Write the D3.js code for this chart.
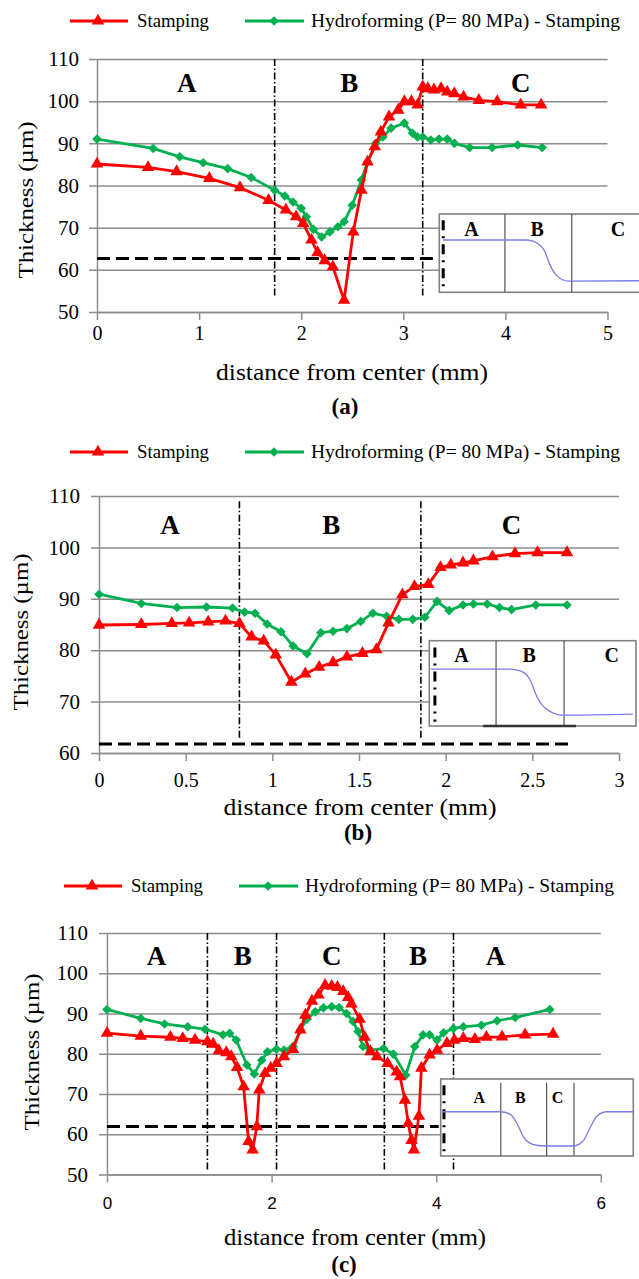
<!DOCTYPE html>
<html>
<head>
<meta charset="utf-8">
<script src="https://cdn.jsdelivr.net/npm/d3@7"></script>
<style>
  body { margin: 0; background: #fff; }
  svg  { display: block; }
</style>
</head>
<body>
<svg id="chart" width="639" height="1279"></svg>
<script>
// ---- data (thickness in um vs distance from center in mm) ----
const stampingA = [[0,85.1],[0.5,84.3],[0.78,83.3],[1.1,81.7],[1.4,79.5],[1.68,76.5],[1.85,74.2],[1.95,72.6],[2.02,71],
  [2.1,67.1],[2.16,64.1],[2.23,62.2],[2.31,60.7],[2.42,52.8],[2.51,69],[2.59,78.9],[2.65,85.6],[2.72,89.2],[2.78,92.7],
  [2.86,96.3],[2.95,97.9],[3.01,99.9],[3.08,99.9],[3.14,99.1],[3.19,103.4],[3.24,103],[3.3,102.7],[3.37,103],[3.43,102.2],
  [3.5,101.8],[3.59,101],[3.74,100.2],[3.92,99.9],[4.15,99.1],[4.35,99.1]];
const hydroA = [[0,91],[0.55,88.8],[0.81,86.8],[1.04,85.4],[1.28,84],[1.51,81.9],[1.74,78.9],[1.84,77.5],[1.92,76.1],
  [2.0,74.6],[2.05,72.6],[2.12,69.6],[2.2,67.8],[2.28,69],[2.36,70.2],[2.42,71.4],[2.5,75.3],[2.59,81.3],[2.65,85.6],
  [2.73,90],[2.8,91.5],[2.88,93.6],[3.01,94.8],[3.09,92.4],[3.14,91.5],[3.19,91.5],[3.27,90.8],[3.35,91],[3.43,91],
  [3.5,90],[3.65,89],[3.87,89],[4.12,89.6],[4.36,89]];

const stampingB = [[0,84.9],[0.244,85.0],[0.42,85.2],[0.52,85.3],[0.63,85.5],[0.73,85.7],[0.81,85.2],[0.88,82.6],
  [0.95,81.8],[1.02,79.1],[1.11,73.8],[1.19,75.4],[1.27,76.7],[1.35,77.6],[1.43,78.7],[1.52,79.4],[1.6,80.1],[1.67,85.3],
  [1.75,90.8],[1.82,92.4],[1.9,92.8],[1.97,96.1],[2.03,96.6],[2.1,97.0],[2.16,97.4],[2.27,98.2],[2.4,98.8],[2.53,99.0],[2.7,99.0]];
const hydroB = [[0,90.9],[0.244,89.1],[0.45,88.3],[0.62,88.4],[0.77,88.2],[0.84,87.4],[0.9,87.2],[0.97,85.1],[1.05,83.6],
  [1.12,80.8],[1.2,79.3],[1.28,83.4],[1.35,83.7],[1.43,84.2],[1.51,85.6],[1.58,87.2],[1.66,86.6],[1.73,86.0],[1.81,86.0],
  [1.88,86.4],[1.95,89.5],[2.02,87.7],[2.1,88.8],[2.16,89.0],[2.24,89.0],[2.31,88.3],[2.38,87.9],[2.52,88.8],[2.7,88.8]];

const stampingC = [[0,85.1],[0.41,84.4],[0.77,84.1],[0.92,83.8],[1.07,83.4],[1.22,83.0],[1.29,82.4],[1.36,80.8],[1.45,80.3],
  [1.51,79.3],[1.58,76.6],[1.66,71.8],[1.72,58.2],[1.77,56.1],[1.82,61.9],[1.85,71],[1.92,75.1],[1.99,76.4],[2.06,77.6],
  [2.15,79.3],[2.26,81.1],[2.35,85.9],[2.41,89.6],[2.49,93.1],[2.57,94.6],[2.65,97.0],[2.73,96.8],[2.80,96.5],[2.87,95.5],
  [2.93,94.0],[2.97,92.4],[3.07,88.6],[3.13,84.1],[3.20,80.5],[3.28,79.3],[3.41,77.6],[3.52,75.5],[3.56,74.3],[3.62,68.5],
  [3.66,62.7],[3.70,58.5],[3.73,56.1],[3.79,64.5],[3.82,76.4],[3.92,79.7],[4.01,80.9],[4.13,82.6],[4.22,83.4],[4.33,83.8],
  [4.47,83.6],[4.61,84.1],[4.80,84.2],[5.08,84.7],[5.42,84.9]];
const hydroC = [[0,91.0],[0.41,88.8],[0.70,87.4],[0.98,86.7],[1.19,86.1],[1.41,84.7],[1.49,85.1],[1.57,83.4],[1.70,77.2],
  [1.79,75.0],[1.88,78.4],[1.95,80.5],[2.06,81.1],[2.15,80.9],[2.26,81.8],[2.35,85.9],[2.43,88.6],[2.53,90.4],[2.63,91.4],
  [2.73,91.7],[2.82,91.5],[2.91,90.0],[2.99,88.0],[3.05,85.5],[3.11,81.8],[3.20,80.9],[3.36,81.3],[3.48,79.9],[3.63,74.7],
  [3.74,81.8],[3.84,84.7],[3.92,84.7],[4.01,83.4],[4.09,85.2],[4.21,86.3],[4.33,86.7],[4.55,87.1],[4.74,88.2],[4.96,89.0],[5.38,91.0]];

// ticks
const yTicksA = [50, 60, 70, 80, 90, 100, 110];
const yTicksB = [60, 70, 80, 90, 100, 110];
const yTicksC = [50, 60, 70, 80, 90, 100, 110];
const xTicksA = [0, 1, 2, 3, 4, 5];
const xTicksB = [0, 0.5, 1, 1.5, 2, 2.5, 3];
const xTicksC = [0, 2, 4, 6];

// zone boundaries (mm), zone names and label positions (mm)
const boundsA = [1.74, 3.19];
const boundsB = [0.81, 1.857];
const boundsC = [1.22, 2.06, 3.37, 4.21];
const zonesA  = ['A', 'B', 'C'];
const zonesB  = ['A', 'B', 'C'];
const zonesC  = ['A', 'B', 'C', 'B', 'A'];
const zoneXA  = [0.88, 2.47, 4.15];
const zoneXB  = [0.41, 1.34, 2.38];
const zoneXC  = [0.6, 1.65, 2.73, 3.78, 4.72];

// initial-thickness reference line: [value, end mm]
const limitA = [62.7, 3.33];
const limitB = [61.75, 2.71];
const limitC = [61.9, 4.03];

// schematic profile of each inset (fraction of inset width / height)
const insetCurveA = [[0.018,0.332],[0.426,0.332],[0.475,0.37],[0.514,0.485],[0.538,0.65],[0.572,0.79],[0.626,0.856],[1,0.852]];
const insetCurveB = [[0.008,0.334],[0.39,0.334],[0.44,0.354],[0.488,0.46],[0.517,0.636],[0.56,0.79],[0.642,0.872],[0.985,0.86]];
const insetCurveC = [[0.007,0.425],[0.308,0.425],[0.36,0.455],[0.4,0.597],[0.433,0.766],[0.49,0.857],[0.547,0.87],[0.687,0.87],
  [0.739,0.805],[0.775,0.636],[0.812,0.48],[0.864,0.425],[1,0.425]];
const insetZonesA = ['A', 'B', 'C'];
const insetZonesC = ['A', 'B', 'C'];

const SERIF = '"Liberation Serif", "Times New Roman", serif',
      SANS  = '"Liberation Sans", Arial, sans-serif',
      RED   = '#ff0000',
      GREEN = '#00b050',
      GRID  = '#8c8c8c';

let svg = d3.select('#chart');
svg.append('rect').attr('width', 639).attr('height', 1279).attr('fill', '#fff');

let triangle = d3.symbol(d3.symbolTriangle, 68),
    diamond  = d3.symbol(d3.symbolSquare, 46);

/**
 * Legend row above each panel
 */
function drawLegend (y, dx) {
  let g = svg.append('g').attr('transform', `translate(${dx},${y})`);
  g.append('line').attr('x1', 70).attr('x2', 128).attr('stroke', RED).attr('stroke-width', 2.8);
  g.append('path').attr('d', triangle).attr('transform', 'translate(98,0)').attr('fill', RED);
  g.append('text').attr('x', 137).attr('y', 6).attr('font-family', SERIF).attr('font-size', 18)
      .attr('textLength', 72).attr('lengthAdjust', 'spacingAndGlyphs').text('Stamping');
  g.append('line').attr('x1', 245).attr('x2', 304).attr('stroke', GREEN).attr('stroke-width', 2.8);
  g.append('path').attr('d', diamond).attr('transform', 'translate(274,0) rotate(45)').attr('fill', GREEN);
  g.append('text').attr('x', 311).attr('y', 6).attr('font-family', SERIF).attr('font-size', 18)
      .attr('textLength', 309).attr('lengthAdjust', 'spacingAndGlyphs').text('Hydroforming (P= 80 MPa) - Stamping');
}

/**
 * One thickness panel
 */
function drawPanel (p) {
  let g = svg.append('g'),
      x = d3.scaleLinear().domain(p.xDomain).range(p.xRange),
      y = d3.scaleLinear().domain(p.yDomain).range(p.yRange),
      w = p.xRange[1] - p.xRange[0];

  // y axis + horizontal gridlines
  let yAxis = g.append('g').attr('transform', `translate(${p.xRange[0]},0)`)
      .call(d3.axisLeft(y).tickValues(p.yTicks).tickSize(-w).tickSizeOuter(0).tickPadding(p.yPad));
  yAxis.select('.domain').attr('stroke', GRID).attr('stroke-width', 1.5);
  yAxis.selectAll('.tick line').attr('x1', -8).attr('stroke', GRID).attr('stroke-width', 1.5);
  yAxis.selectAll('.tick text').attr('font-family', SERIF).attr('font-size', 21).attr('fill', '#000');

  // x axis
  let xAxis = g.append('g').attr('transform', `translate(0,${p.yRange[0]})`)
      .call(d3.axisBottom(x).tickValues(p.xTicks).tickSize(8).tickSizeOuter(0).tickPadding(p.xPad).tickFormat(d3.format('')));
  xAxis.select('.domain').attr('stroke', GRID).attr('stroke-width', 1.5);
  xAxis.selectAll('.tick line').attr('stroke', GRID).attr('stroke-width', 1.5);
  xAxis.selectAll('.tick text').attr('font-family', p.xFont).attr('font-size', p.xFontSize).attr('fill', '#000');

  // zone boundaries
  g.selectAll(null).data(p.bounds).join('line')
      .attr('x1', d => x(d)).attr('x2', d => x(d))
      .attr('y1', y(p.boundSpan[1])).attr('y2', y(p.boundSpan[0]))
      .attr('stroke', '#000').attr('stroke-width', 1.6).attr('stroke-dasharray', '7,2.5,1.5,2.5');

  g.selectAll(null).data(p.zones).join('text')
      .attr('x', (d, i) => x(p.zoneX[i])).attr('y', y(104.4))
      .attr('text-anchor', 'middle').attr('dominant-baseline', 'central')
      .attr('font-family', SERIF).attr('font-weight', 'bold').attr('font-size', 27).text(d => d);

  // reference thickness
  g.append('line').attr('x1', x(0)).attr('x2', x(p.limit[1])).attr('y1', y(p.limit[0])).attr('y2', y(p.limit[0]))
      .attr('stroke', '#000').attr('stroke-width', 3).attr('stroke-dasharray', '13,6');

  // series
  let line = d3.line().x(d => x(d[0])).y(d => y(d[1]));
  g.append('path').datum(p.hydro).attr('d', line).attr('fill', 'none').attr('stroke', GREEN).attr('stroke-width', 2.8);
  g.selectAll(null).data(p.hydro).join('path')
      .attr('transform', d => `translate(${x(d[0])},${y(d[1])}) rotate(45)`).attr('d', diamond).attr('fill', GREEN);
  g.append('path').datum(p.stamping).attr('d', line).attr('fill', 'none').attr('stroke', RED).attr('stroke-width', 2.8);
  g.selectAll(null).data(p.stamping).join('path')
      .attr('transform', d => `translate(${x(d[0])},${y(d[1])})`).attr('d', triangle).attr('fill', RED);

  // titles
  g.append('text').attr('transform', `translate(${p.yTitle[0]},${p.yTitle[1]}) rotate(-90)`)
      .attr('text-anchor', 'middle').attr('dominant-baseline', 'central')
      .attr('font-family', SERIF).attr('font-size', 22)
      .attr('textLength', 157).attr('lengthAdjust', 'spacingAndGlyphs').text('Thickness (\u00b5m)');
  g.append('text').attr('x', p.xTitle[0]).attr('y', p.xTitle[1]).attr('text-anchor', 'middle')
      .attr('font-family', SERIF).attr('font-size', 23)
      .attr('textLength', p.xTitle[2]).attr('lengthAdjust', 'spacingAndGlyphs').text('distance from center (mm)');
  g.append('text').attr('x', p.letter[0]).attr('y', p.letter[1]).attr('text-anchor', 'middle')
      .attr('font-family', SERIF).attr('font-weight', 'bold').attr('font-size', 23).text(p.letter[2]);

  // inset sketch
  let ins = p.inset,
      ig  = g.append('g'),
      ix  = d3.scaleLinear().domain([0, 1]).range([ins.x, ins.x + ins.w]),
      iy  = d3.scaleLinear().domain([0, 1]).range([ins.y, ins.y + ins.h]);
  ig.append('rect').attr('x', ins.x).attr('y', ins.y).attr('width', ins.w).attr('height', ins.h)
      .attr('fill', '#fff').attr('stroke', '#808080').attr('stroke-width', 1.6);
  ig.selectAll(null).data(ins.lines).join('line')
      .attr('x1', d => ix(d)).attr('x2', d => ix(d)).attr('y1', iy(ins.lineTop)).attr('y2', iy(1))
      .attr('stroke', '#555').attr('stroke-width', 1.2);
  ig.append('line').attr('x1', ix(ins.dash)).attr('x2', ix(ins.dash)).attr('y1', iy(0.08)).attr('y2', iy(0.95))
      .attr('stroke', '#000').attr('stroke-width', 3).attr('stroke-dasharray', '10,6,2,6');
  if (ins.base) {
    ig.append('line').attr('x1', ix(ins.base[0])).attr('x2', ix(ins.base[1])).attr('y1', iy(1)).attr('y2', iy(1))
        .attr('stroke', '#333').attr('stroke-width', 2.5);
  }
  ig.selectAll(null).data(ins.zones).join('text')
      .attr('x', (d, i) => ix(ins.zoneX[i])).attr('y', iy(ins.zoneY))
      .attr('text-anchor', 'middle').attr('dominant-baseline', 'central')
      .attr('font-family', SERIF).attr('font-weight', 'bold').attr('font-size', ins.fs).text(d => d);
  ig.append('path').datum(p.curve)
      .attr('d', d3.line().x(d => ix(d[0])).y(d => iy(d[1])).curve(d3.curveMonotoneX))
      .attr('fill', 'none').attr('stroke', '#7b7bea').attr('stroke-width', 1.3);
}

drawLegend(21, 0);
drawPanel({
  stamping: stampingA, hydro: hydroA,
  xDomain: [0, 5], xRange: [97, 607.5], xTicks: xTicksA, xFont: SERIF, xFontSize: 20, xPad: 6,
  yDomain: [50, 110], yRange: [312, 59], yTicks: yTicksA, yPad: 18,
  bounds: boundsA, boundSpan: [53.5, 110], zones: zonesA, zoneX: zoneXA, limit: limitA,
  yTitle: [25, 200], xTitle: [352, 380, 272], letter: [345, 414, '(a)'],
  curve: insetCurveA,
  inset: { x: 439.3, y: 214, w: 205.7, h: 78.3, lines: [0.319, 0.644], lineTop: 0, dash: 0.019,
           zones: insetZonesA, zoneX: [0.157, 0.476, 0.869], zoneY: 0.19, fs: 20 }
});

drawLegend(452, 0);
drawPanel({
  stamping: stampingB, hydro: hydroB,
  xDomain: [0, 3], xRange: [99, 619], xTicks: xTicksB, xFont: SERIF, xFontSize: 20, xPad: 12,
  yDomain: [60, 110], yRange: [753, 496], yTicks: yTicksB, yPad: 19,
  bounds: boundsB, boundSpan: [62.5, 109], zones: zonesB, zoneX: zoneXB, limit: limitB,
  yTitle: [20, 632], xTitle: [360, 815, 273], letter: [358, 840, '(b)'],
  curve: insetCurveB,
  inset: { x: 429.3, y: 640.7, w: 206.7, h: 85.3, lines: [0.323, 0.652], lineTop: 0, dash: 0.027, base: [0.26, 0.71],
           zones: insetZonesA, zoneX: [0.156, 0.483, 0.883], zoneY: 0.17, fs: 20 }
});

drawLegend(886, -6);
drawPanel({
  stamping: stampingC, hydro: hydroC,
  xDomain: [0, 6], xRange: [107, 600.8], xTicks: xTicksC, xFont: SANS, xFontSize: 17, xPad: 14,
  yDomain: [50, 110], yRange: [1174.5, 933], yTicks: yTicksC, yPad: 19,
  bounds: boundsC, boundSpan: [51, 110], zones: zonesC, zoneX: zoneXC, limit: limitC,
  yTitle: [31, 1052], xTitle: [355, 1245, 262], letter: [344, 1272, '(c)'],
  curve: insetCurveC,
  inset: { x: 440.7, y: 1079, w: 192.6, h: 77, lines: [0.312, 0.55, 0.692], lineTop: 0.05, dash: 0.017,
           zones: insetZonesC, zoneX: [0.2, 0.413, 0.606], zoneY: 0.234, fs: 16 }
});
</script>
</body>
</html>
